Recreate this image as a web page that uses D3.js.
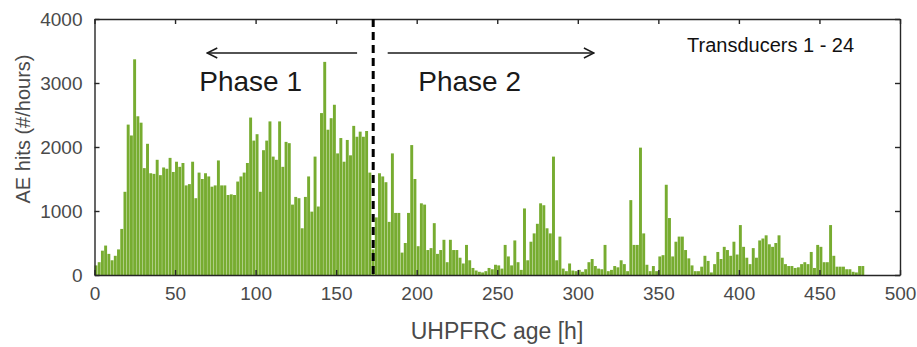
<!DOCTYPE html>
<html>
<head>
<meta charset="utf-8">
<script src="https://cdn.jsdelivr.net/npm/d3@7"></script>
<style>
  body { margin: 0; background: #fff; }
  svg { display: block; font-family: "Liberation Sans", Arial, sans-serif; }
</style>
</head>
<body>
<div id="chart"></div>
<script>
// AE hits per 2 h bin
const binWidth = 2;
const hits = [
  150, 200, 380, 460, 330, 230, 300, 400, 720, 1300,
  2350, 2180, 3370, 2480, 2380, 1670, 2050, 1590, 1580, 1800,
  1560, 1680, 1660, 1830, 1610, 1770, 1690, 1750, 1400, 1420,
  1770, 1200, 1600, 1500, 1590, 1540, 1380, 1400, 1790, 1400,
  1400, 1250, 1260, 1250, 1460, 1540, 1600, 1750, 2460, 2100,
  2200, 1300, 1950, 2100, 2400, 1850, 1800, 2400, 1690, 2080,
  2060, 1100, 1220, 1200, 730, 1220, 1540, 990, 1850, 1070,
  2530, 3330, 2270, 2450, 2660, 1900, 2140, 1770, 2110, 1870,
  2330, 2160, 2240, 2160, 2250, 1600, 400, 900, 1590, 1540,
  1450, 830, 1900, 970, 970, 350, 500, 970, 2030, 1500,
  450, 1120, 1100, 390, 420, 810, 330, 390, 550, 200,
  550, 390, 390, 270, 180, 470, 230, 110, 70, 50,
  40, 60, 110, 90, 160, 150, 100, 470, 290, 150,
  540, 200, 80, 1040, 230, 520, 650, 800, 1120, 1090,
  730, 650, 1850, 230, 600, 100, 60, 180, 70, 60,
  80, 50, 90, 200, 250, 140, 100, 90, 470, 60,
  80, 140, 120, 230, 170, 60, 1170, 470, 470, 1990,
  650, 160, 60, 140, 60, 290, 310, 1410, 890, 290,
  520, 600, 600, 390, 260, 150, 60, 60, 130, 300,
  220, 40, 170, 360, 250, 440, 390, 300, 520, 320,
  780, 440, 270, 170, 420, 270, 540, 570, 620, 480,
  440, 500, 620, 270, 170, 140, 140, 110, 120, 170,
  200, 170, 360, 110, 470, 440, 200, 200, 780, 300,
  130, 130, 130, 90, 90, 50, 40, 140, 140
];
const binStart = hits.map((d, i) => i * binWidth);

const xTicks = [0, 50, 100, 150, 200, 250, 300, 350, 400, 450, 500];
const yTicks = [0, 1000, 2000, 3000, 4000];
const phaseBoundary = 173; // h
const phaseLabels = ["Phase 1", "Phase 2"];
const legendText = "Transducers 1 - 24";

const width = 917, height = 347;
const margins = {top: 19, right: 17, bottom: 72, left: 94.5};
const axisColor = "#262626";
const barColor = "#77ac30";

const x = d3.scaleLinear().domain([0, 500]).range([margins.left, width - margins.right]);
const y = d3.scaleLinear().domain([0, 4000]).range([height - margins.bottom, margins.top]);

const svg = d3.select("#chart").append("svg")
              .attr("width", width)
              .attr("height", height);

svg.append("defs").append("marker")
   .attr("id", "head")
   .attr("viewBox", "0 0 12 12")
   .attr("refX", 11).attr("refY", 6)
   .attr("markerWidth", 12).attr("markerHeight", 12)
   .attr("markerUnits", "userSpaceOnUse")
   .attr("orient", "auto-start-reverse")
   .append("path")
   .attr("d", "M1,1 L11,6 L1,11")
   .attr("fill", "none")
   .attr("stroke", "#1a1a1a")
   .attr("stroke-width", 1.4);

// bars
svg.append("g")
   .selectAll("rect")
   .data(hits)
   .join("rect")
   .attr("x", (d, i) => x(binStart[i]))
   .attr("width", (d, i) => x(binStart[i] + binWidth) - x(binStart[i]) - 0.3)
   .attr("y", d => y(d))
   .attr("height", d => y(0) - y(d))
   .attr("fill", barColor);

// axes (ticks inside, boxed)
const tickLen = 5;
const gBottom = svg.append("g")
   .attr("transform", `translate(0,${y(0)})`)
   .call(d3.axisBottom(x).tickValues(xTicks).tickSizeInner(-tickLen).tickSizeOuter(0).tickPadding(14));
const gTop = svg.append("g")
   .attr("transform", `translate(0,${y(4000)})`)
   .call(d3.axisTop(x).tickValues(xTicks).tickSizeInner(-tickLen).tickSizeOuter(0).tickFormat(""));
const gLeft = svg.append("g")
   .attr("transform", `translate(${x(0)},0)`)
   .call(d3.axisLeft(y).tickValues(yTicks).tickFormat(d3.format("d"))
           .tickSizeInner(-tickLen).tickSizeOuter(0).tickPadding(12));
const gRight = svg.append("g")
   .attr("transform", `translate(${x(500)},0)`)
   .call(d3.axisRight(y).tickValues(yTicks).tickSizeInner(-tickLen).tickSizeOuter(0).tickFormat(""));

[gBottom, gTop, gLeft, gRight].forEach(g => {
  g.select(".domain").attr("stroke", axisColor).attr("stroke-width", 1.4);
  g.selectAll(".tick line").attr("stroke", axisColor).attr("stroke-width", 1.4);
  g.selectAll(".tick text")
   .attr("fill", "#4a4a4a")
   .style("font-size", "19px");
});
gBottom.selectAll(".tick text").attr("dy", "0.6em");

// axis titles
svg.append("text")
   .attr("transform", `translate(30,129) rotate(-90)`)
   .attr("text-anchor", "middle")
   .attr("fill", "#4a4a4a")
   .style("font-size", "20px")
   .text("AE hits (#/hours)");
svg.append("text")
   .attr("x", 497)
   .attr("y", 339)
   .attr("text-anchor", "middle")
   .attr("fill", "#4a4a4a")
   .style("font-size", "23px")
   .text("UHPFRC age [h]");

// phase boundary
svg.append("line")
   .attr("x1", x(phaseBoundary)).attr("x2", x(phaseBoundary))
   .attr("y1", y(4000)).attr("y2", y(0))
   .attr("stroke", "#000")
   .attr("stroke-width", 3)
   .attr("stroke-dasharray", "8,5");

// arrows
const arrowY = 53;
svg.append("line")
   .attr("x1", x(163)).attr("x2", x(70))
   .attr("y1", arrowY).attr("y2", arrowY)
   .attr("stroke", "#1a1a1a").attr("stroke-width", 1.4)
   .attr("marker-end", "url(#head)");
svg.append("line")
   .attr("x1", x(182)).attr("x2", x(310))
   .attr("y1", arrowY).attr("y2", arrowY)
   .attr("stroke", "#1a1a1a").attr("stroke-width", 1.4)
   .attr("marker-end", "url(#head)");

svg.selectAll(".phase")
   .data(phaseLabels)
   .join("text")
   .attr("class", "phase")
   .attr("x", (d, i) => i === 0 ? x(65) : x(201))
   .attr("y", 91)
   .attr("fill", "#1a1a1a")
   .style("font-size", "28px")
   .text(d => d);

svg.append("text")
   .attr("x", 687)
   .attr("y", 52)
   .attr("fill", "#111")
   .style("font-size", "20px")
   .text(legendText);
</script>
</body>
</html>
